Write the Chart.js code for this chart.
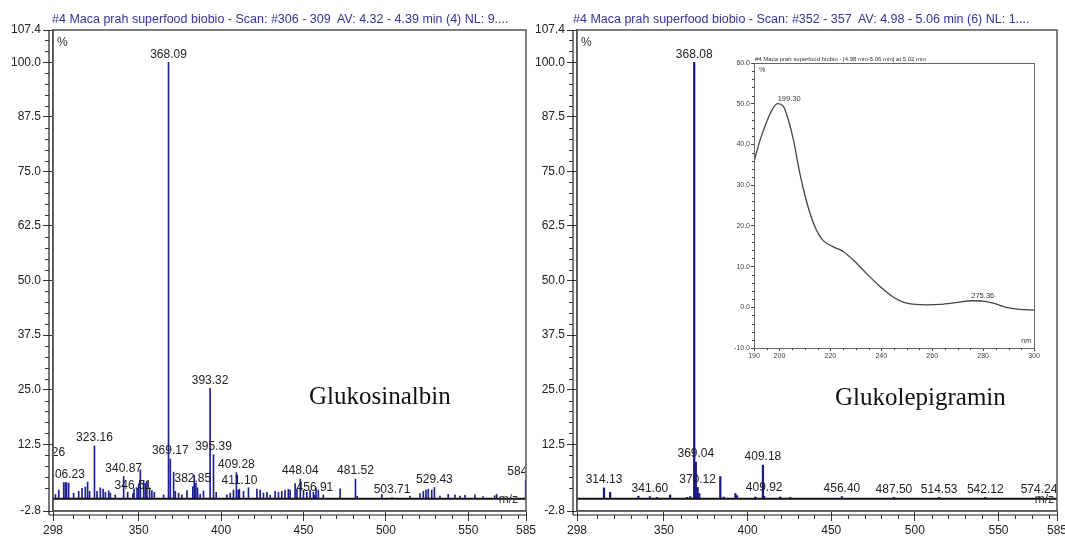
<!DOCTYPE html>
<html><head><meta charset="utf-8">
<script src="https://cdn.jsdelivr.net/npm/chart.js@4.4.0/dist/chart.umd.min.js"></script>
<style>
html,body{margin:0;padding:0;background:#fff;}
#wrap{position:relative;width:1065px;height:536px;overflow:hidden;background:#fff;}
canvas{position:absolute;}
.title{position:absolute;font-family:"Liberation Sans",Arial,sans-serif;font-size:12.5px;line-height:14px;color:#33339a;white-space:pre;}
.name{position:absolute;font-family:"Liberation Serif","Times New Roman",serif;font-size:25px;line-height:28px;color:#111;white-space:pre;}
</style></head>
<body><div id="wrap">
<canvas id="left" width="545" height="536" style="left:0;top:0"></canvas>
<canvas id="right" width="533" height="536" style="left:532px;top:0"></canvas>
<canvas id="inset" width="345" height="317" style="left:700px;top:48px"></canvas>
<div class="title" style="left:52px;top:12px">#4 Maca prah superfood biobio - Scan: #306 - 309  AV: 4.32 - 4.39 min (4) NL: 9....</div>
<div class="title" style="left:573px;top:12px">#4 Maca prah superfood biobio - Scan: #352 - 357  AV: 4.98 - 5.06 min (6) NL: 1....</div>
<div class="name" style="left:309px;top:382px">Glukosinalbin</div>
<div class="name" style="left:835px;top:383px">Glukolepigramin</div>
</div>
<script>
// ---- data ----
const mzTicks = [298, 350, 400, 450, 500, 550, 585];
const relTicks = [-2.8, 12.5, 25, 37.5, 50, 62.5, 75, 87.5, 100, 107.4];

const leftMz = [294.26, 299.5, 301.5, 304.5, 305.5, 306.23, 307.5, 310.5, 313.6, 315.6, 317.6, 319.0, 320.2, 323.16, 324.7, 326.7, 328.4, 329.8, 331.8, 332.8, 335.8, 340.87, 343.3, 346.51, 347.2, 349.0, 350.0, 351.0, 353.0, 354.0, 355.0, 356.6, 358.0, 359.5, 365.1, 368.09, 369.17, 371.2, 372.2, 374.2, 376.2, 379.3, 382.85, 383.7, 384.7, 385.7, 387.3, 389.3, 393.32, 395.39, 397.0, 403.5, 405.5, 407.5, 409.28, 410.4, 411.10, 413.6, 416.6, 421.7, 423.7, 425.7, 427.8, 429.8, 432.8, 434.8, 436.8, 438.8, 440.8, 441.9, 444.9, 446.0, 448.04, 450.0, 452.0, 454.0, 456.0, 456.91, 457.6, 459.0, 462.0, 472.2, 481.52, 482.6, 497.5, 503.71, 514.6, 520.7, 522.7, 524.3, 525.7, 527.8, 529.43, 532.8, 537.8, 541.9, 544.9, 548.0, 554.0, 559.0, 566.0, 567.2, 584.78];
const leftIntensity = [8.8, 1.0, 2.0, 3.7, 3.7, 3.7, 3.6, 1.3, 1.7, 2.4, 2.7, 3.8, 1.7, 12.1, 1.7, 2.5, 2.2, 1.5, 1.8, 1.3, 0.9, 5.1, 1.5, 1.2, 2.2, 2.5, 3.4, 6.6, 4.2, 3.5, 4.0, 2.5, 1.9, 1.5, 0.9, 100, 9.1, 6.1, 1.7, 1.3, 0.9, 1.9, 2.8, 5.4, 3.6, 2.5, 1.0, 1.8, 25.3, 10.1, 1.5, 0.9, 1.3, 2.0, 6.0, 2.0, 2.2, 1.7, 2.5, 2.2, 2.0, 1.3, 1.5, 0.8, 1.7, 1.5, 1.7, 2.0, 2.2, 2.0, 3.5, 2.2, 4.5, 2.0, 1.5, 2.0, 1.5, 0.8, 2.5, 1.8, 0.9, 2.3, 4.5, 0.6, 1.0, 0.3, 0.6, 1.2, 1.7, 2.0, 2.2, 2.0, 2.6, 0.6, 1.0, 0.9, 0.6, 0.8, 0.9, 0.5, 0.7, 1.0, 4.3];
const leftLabeled = [294.26, 306.23, 323.16, 340.87, 346.51, 368.09, 369.17, 382.85, 393.32, 395.39, 409.28, 411.10, 448.04, 456.91, 481.52, 503.71, 529.43, 584.78];

const rightMz = [314.13, 317.8, 334.7, 341.60, 345.8, 353.7, 363.7, 365.7, 368.08, 369.04, 370.12, 371.1, 383.7, 385.7, 392.7, 393.7, 404.6, 409.18, 409.92, 419.5, 425.5, 456.40, 487.50, 514.53, 542.12, 574.24];
const rightIntensity = [2.5, 1.5, 0.6, 0.5, 0.3, 0.9, 0.3, 0.5, 100, 8.4, 2.6, 1.2, 5.1, 0.4, 1.2, 0.7, 0.4, 7.7, 0.6, 0.4, 0.3, 0.5, 0.3, 0.3, 0.3, 0.3];
const rightLabeled = [314.13, 341.60, 368.08, 369.04, 370.12, 409.18, 409.92, 456.40, 487.50, 514.53, 542.12, 574.24];

const uvNm = [190, 192.5, 195, 197.5, 199.3, 201.5, 203.5, 205.5, 207.5, 209.5, 212, 214.5, 217, 221, 225, 229, 234, 239.5, 244.5, 250, 258, 263, 270, 275.36, 280, 284, 289, 294.5, 300];
const uvAbs = [35.8, 41.3, 45.6, 48.9, 50.0, 49.4, 46.0, 41.1, 34.5, 28.8, 23.1, 19.0, 16.5, 14.9, 13.7, 11.6, 8.4, 5.1, 2.6, 1.0, 0.6, 0.7, 1.2, 1.6, 1.5, 1.0, 0.0, -0.5, -0.7];
const uvLabeled = [199.3, 275.36];
const uvXTicks = [190, 200, 220, 240, 260, 280, 300];
const uvYTicks = [-10, 0, 10, 20, 30, 40, 50, 60];
const insetTitle = "#4 Maca prah superfood biobio - [4.98 min-5.06 min] at 5.02 min";

// ---- drawing ----
const family = '"Liberation Sans", Arial, sans-serif';

const specDecor = {
  id: 'specDecor',
  afterDatasetsDraw(chart, args, o) {
    const {ctx, chartArea: a, scales: {x, y}} = chart;
    const data = chart.data.datasets[0].data;
    ctx.save();
    const y0 = y.getPixelForValue(0);
    ctx.strokeStyle = '#111'; ctx.lineWidth = 2;
    ctx.beginPath(); ctx.moveTo(a.left, y0); ctx.lineTo(a.right, y0); ctx.stroke();
    ctx.save();
    ctx.beginPath(); ctx.rect(a.left + 1, a.top, a.right - a.left - 2, a.bottom - a.top); ctx.clip();
    ctx.font = '12px ' + family; ctx.fillStyle = '#222';
    ctx.textAlign = 'center'; ctx.textBaseline = 'bottom';
    o.labeled.forEach(m => {
      const p = data.find(d => d.x === m);
      if (!p) return;
      ctx.fillText(m.toFixed(2), x.getPixelForValue(m), y.getPixelForValue(p.y) - 2);
    });
    ctx.textAlign = 'right'; ctx.textBaseline = 'middle'; ctx.fillStyle = '#333';
    ctx.fillText('m/z', a.right - o.mzOff, y0 + 1);
    ctx.restore();
    ctx.strokeStyle = '#555'; ctx.lineWidth = 1.5;
    ctx.strokeRect(a.left, a.top, a.right - a.left, a.bottom - a.top);
    ctx.strokeStyle = '#222'; ctx.lineWidth = 1.2;
    ctx.beginPath();
    ctx.moveTo(a.left - 4, a.top); ctx.lineTo(a.left - 4, a.bottom + 4);
    ctx.moveTo(a.left - 4, a.bottom + 4); ctx.lineTo(a.right, a.bottom + 4);
    ctx.stroke();
    ctx.lineWidth = 1; ctx.strokeStyle = '#333';
    ctx.beginPath();
    for (let v = 0; v <= 105; v += 2.5) {
      if (Math.abs(v % 12.5) < 1e-6) continue;
      const py = Math.round(y.getPixelForValue(v)) + 0.5;
      ctx.moveTo(a.left - 4, py); ctx.lineTo(a.left - 8, py);
    }
    for (let v = 310; v <= 580; v += 10) {
      if (v % 50 === 0) continue;
      const px = Math.round(x.getPixelForValue(v)) + 0.5;
      ctx.moveTo(px, a.bottom + 4); ctx.lineTo(px, a.bottom + 8);
    }
    ctx.stroke();
    ctx.font = '12px ' + family; ctx.fillStyle = '#333';
    ctx.textAlign = 'left'; ctx.textBaseline = 'middle';
    ctx.fillText('%', a.left + 4, a.top + 13);
    ctx.restore();
  }
};

function spectrum(id, mz, inten, labeled, o) {
  return new Chart(document.getElementById(id), {
    type: 'bar',
    data: { datasets: [{
      data: mz.map((m, i) => ({x: m, y: inten[i]})),
      backgroundColor: o.color, borderWidth: 0, barThickness: o.barW, grouped: false
    }]},
    options: {
      responsive: false, animation: false, devicePixelRatio: 1,
      layout: { padding: { top: 30, right: o.padRight, left: 0, bottom: 0 } },
      plugins: { legend: {display: false}, tooltip: {enabled: false},
        specDecor: { labeled: labeled, mzOff: o.mzOff } },
      scales: {
        x: {
          type: 'linear', min: 298, max: 585, offset: false,
          afterBuildTicks: s => { s.ticks = mzTicks.map(v => ({value: v})); },
          afterFit: s => { s.height = 25; s.paddingLeft = 0; s.paddingRight = 0; },
          ticks: { autoSkip: false, maxRotation: 0, padding: 2, color: '#222',
                   font: {size: 12, family: family}, callback: v => String(v) },
          grid: { display: true, drawOnChartArea: false, drawTicks: true, tickLength: 10,
                  color: '#333', tickColor: '#333', offset: false },
          border: { display: true, color: '#555', width: 1.5 }
        },
        y: {
          min: -2.8, max: 107.4,
          afterBuildTicks: s => { s.ticks = relTicks.map(v => ({value: v})); },
          afterFit: s => { s.width = o.yWidth; s.paddingTop = 0; s.paddingBottom = 0; },
          ticks: { autoSkip: false, padding: 2, color: '#222',
                   font: {size: 12, family: family}, callback: v => v.toFixed(1) },
          grid: { display: true, drawOnChartArea: false, drawTicks: true, tickLength: 10,
                  color: '#333', tickColor: '#333' },
          border: { display: true, color: '#555', width: 1.5 }
        }
      }
    },
    plugins: [specDecor]
  });
}

spectrum('left', leftMz, leftIntensity, leftLabeled, {color: '#1e1e96', barW: 1, padRight: 19, yWidth: 53, mzOff: 8});
spectrum('right', rightMz, rightIntensity, rightLabeled, {color: '#1a1a8c', barW: 1.6, padRight: 8, yWidth: 45, mzOff: 3});

const insetDecor = {
  id: 'insetDecor',
  afterDatasetsDraw(chart, args, o) {
    const {ctx, chartArea: a, scales: {x, y}} = chart;
    const data = chart.data.datasets[0].data;
    ctx.save();
    ctx.strokeStyle = '#666'; ctx.lineWidth = 1;
    ctx.strokeRect(a.left + 0.5, a.top + 0.5, a.right - a.left, a.bottom - a.top);
    ctx.strokeStyle = '#444'; ctx.beginPath();
    for (let v = -8; v < 60; v += 2) {
      if (v % 10 === 0) continue;
      const py = Math.round(y.getPixelForValue(v)) + 0.5;
      ctx.moveTo(a.left, py); ctx.lineTo(a.left - 2, py);
    }
    for (let v = 195; v < 300; v += 5) {
      if (uvXTicks.includes(v)) continue;
      const px = Math.round(x.getPixelForValue(v)) + 0.5;
      ctx.moveTo(px, a.bottom); ctx.lineTo(px, a.bottom + 2);
    }
    ctx.stroke();
    ctx.fillStyle = '#333';
    ctx.font = '6px ' + family; ctx.textAlign = 'left'; ctx.textBaseline = 'bottom';
    ctx.fillText(o.title, a.left + 1, a.top - 1);
    ctx.font = '7px ' + family; ctx.textBaseline = 'middle';
    ctx.fillText('%', a.left + 5, a.top + 7);
    ctx.textAlign = 'right';
    ctx.fillText('nm', a.right - 3, a.bottom - 7);
    ctx.textAlign = 'left'; ctx.textBaseline = 'bottom'; ctx.font = '7.5px ' + family;
    o.labeled.forEach(m => {
      const p = data.find(d => d.x === m);
      if (!p) return;
      ctx.fillText(m.toFixed(2), x.getPixelForValue(m), y.getPixelForValue(p.y) - 1);
    });
    ctx.restore();
  }
};

new Chart(document.getElementById('inset'), {
  type: 'line',
  data: { datasets: [{
    data: uvNm.map((n, i) => ({x: n, y: uvAbs[i]})),
    borderColor: '#444', borderWidth: 1.3, pointRadius: 0, fill: false,
    cubicInterpolationMode: 'monotone'
  }]},
  options: {
    responsive: false, animation: false, devicePixelRatio: 1,
    layout: { padding: { top: 15, right: 11, left: 0, bottom: 0 } },
    plugins: { legend: {display: false}, tooltip: {enabled: false},
      insetDecor: { labeled: uvLabeled, title: insetTitle } },
    scales: {
      x: {
        type: 'linear', min: 190, max: 300,
        afterBuildTicks: s => { s.ticks = uvXTicks.map(v => ({value: v})); },
        afterFit: s => { s.height = 17; },
        ticks: { autoSkip: false, maxRotation: 0, padding: 1, color: '#444',
                 font: {size: 7, family: family}, callback: v => String(v) },
        grid: { display: true, drawOnChartArea: false, drawTicks: true, tickLength: 3, color: '#444', tickColor: '#444' },
        border: { display: true, color: '#555', width: 1 }
      },
      y: {
        min: -10, max: 60,
        afterBuildTicks: s => { s.ticks = uvYTicks.map(v => ({value: v})); },
        afterFit: s => { s.width = 54; },
        ticks: { autoSkip: false, padding: 1, color: '#444',
                 font: {size: 7, family: family}, callback: v => v.toFixed(1) },
        grid: { display: true, drawOnChartArea: false, drawTicks: true, tickLength: 3, color: '#444', tickColor: '#444' },
        border: { display: true, color: '#555', width: 1 }
      }
    }
  },
  plugins: [insetDecor]
});
</script>
</body></html>
